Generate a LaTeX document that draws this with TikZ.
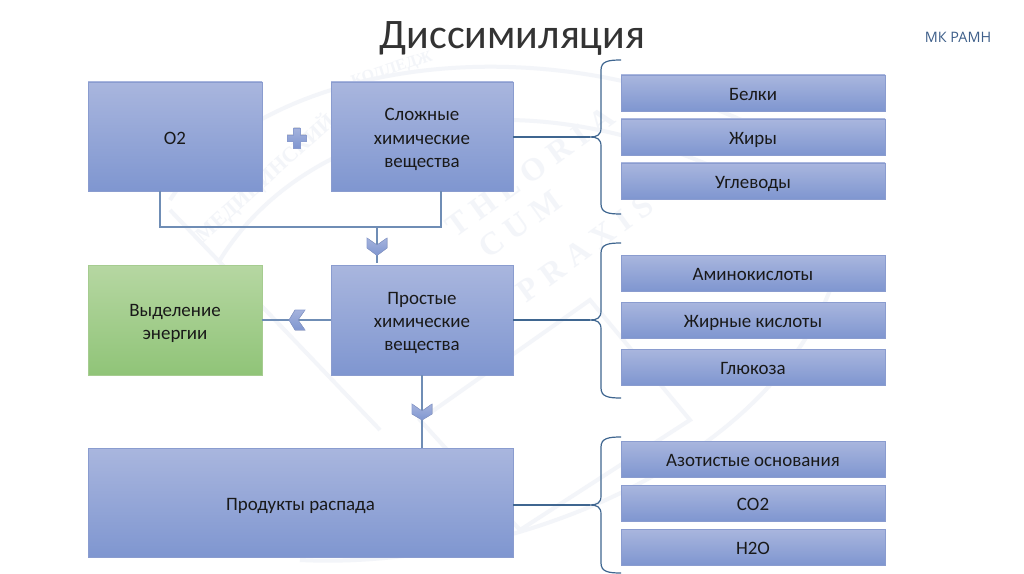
\documentclass[tikz,border=0pt]{standalone}
\usepackage{fontspec}
\setmainfont{Carlito}
\newfontfamily\logofont{Open Sans}
\newfontfamily\wmserif{Liberation Serif}
\usetikzlibrary{calc}
\definecolor{boxtop}{HTML}{A9B6DE}
\definecolor{boxbot}{HTML}{7F96D0}
\definecolor{boxline}{HTML}{8A9CCF}
\definecolor{greentop}{HTML}{B6D7A2}
\definecolor{greenbot}{HTML}{90C478}
\definecolor{greenline}{HTML}{A6CC90}
\definecolor{conn}{HTML}{6F8DB5}
\definecolor{bracecol}{HTML}{3F6690}
\definecolor{wm}{HTML}{F3F5F9}
\definecolor{logo}{HTML}{3E5F8A}
\tikzset{
  x=0.75pt,y=-0.75pt,
  bluebox/.style={draw=boxline,line width=0.7pt,top color=boxtop,bottom color=boxbot,shading angle=0,inner sep=0pt},
  greenbox/.style={bluebox,draw=greenline,top color=greentop,bottom color=greenbot},
  boxlabel/.style={align=center,text=black!90,font=\fontsize{14.2}{17.4}\selectfont,inner sep=0pt},
  connline/.style={draw=conn,line width=1.1pt},
  braceline/.style={draw=bracecol,line width=0.9pt},
  chev/.style={draw=boxline,line width=0.4pt,top color=boxtop!90!boxbot,bottom color=boxbot},
  wmline/.style={draw=wm,line width=3pt},
  wmtext/.style={text=wm,font=\wmserif\bfseries\fontsize{24}{26}\selectfont,inner sep=0pt}
}
\newcommand{\bx}[7]{\node[#6,minimum width={(#4-#2)*0.75pt},minimum height={(#5-#3)*0.75pt}] (#1) at ({(#2+#4)/2},{(#3+#5)/2}) {};
\node[boxlabel] (#1t) at ($(#1.center)+(0,3)$) {\strut #7\strut};}
\newcommand{\brc}[5]{\draw[braceline] (#1,#2) .. controls (#1-12,#2) and (#1-20,#2+1) .. (#1-20,#2+10) -- (#1-20,#3-9) .. controls (#1-20,#3-2) and (#1-24,#3) .. (#1-31,#3) .. controls (#1-24,#3) and (#1-20,#3+2) .. (#1-20,#3+9) -- (#1-20,#4-10) .. controls (#1-20,#4-1) and (#1-12,#4) .. (#1,#4);\coordinate (#5) at (#1-31,#3);}
\begin{document}
\begin{tikzpicture}
\useasboundingbox (0,0) rectangle (1024,574);
\fill[white] (0,0) rectangle (1024,574);
% faint watermark
\draw[wmline] (170,200) .. controls (260,60) and (560,10) .. (800,150);
\draw[wmline] (220,260) .. controls (300,130) and (500,70) .. (720,170);
\draw[wmline] (300,560) .. controls (500,570) and (760,470) .. (830,290);
\draw[wmline] (170,210) -- (380,430);
\draw[wmline] (420,420) -- (590,300) -- (690,420) -- (520,530) -- cycle;
\node[wmtext,rotate=36] (wm1) at (530,172) {T H E O R I A};
\node[wmtext,rotate=36] (wm2) at (520,224) {C U M};
\node[wmtext,rotate=36] (wm3) at (585,248) {P R A X I S};
\node[wmtext,rotate=42,font=\wmserif\bfseries\fontsize{16}{18}\selectfont] (wm4) at (265,178) {МЕДИЦИНСКИЙ};
\node[wmtext,rotate=18,font=\wmserif\bfseries\fontsize{12}{14}\selectfont] (wm5) at (392,70) {КОЛЛЕДЖ};
% boxes
\bx{o2}{88}{82}{262}{191}{bluebox}{О2}
\bx{slozh}{331}{82}{513}{191}{bluebox}{Сложные\\химические\\вещества}
\bx{energy}{88}{265}{262}{375}{greenbox}{Выделение\\энергии}
\bx{prost}{331}{265}{513}{375}{bluebox}{Простые\\химические\\вещества}
\bx{prod}{88}{448}{513}{557}{bluebox}{Продукты распада}
\bx{r1}{621}{75}{885}{111}{bluebox}{Белки}
\bx{r2}{621}{119}{885}{155}{bluebox}{Жиры}
\bx{r3}{621}{163}{885}{199}{bluebox}{Углеводы}
\bx{r4}{621}{255}{885}{291}{bluebox}{Аминокислоты}
\bx{r5}{621}{302}{885}{338}{bluebox}{Жирные кислоты}
\bx{r6}{621}{349}{885}{385}{bluebox}{Глюкоза}
\bx{r7}{621}{441}{885}{477}{bluebox}{Азотистые основания}
\bx{r8}{621}{485}{885}{521}{bluebox}{СО2}
\bx{r9}{621}{529}{885}{565}{bluebox}{Н2О}
% title and logo
\node[font=\fontsize{31.5}{34}\selectfont,text=black!80,inner sep=0pt] (title) at (512.5,38) {Диссимиляция};
\node[font=\logofont\fontsize{10.8}{12}\selectfont,text=logo,inner sep=0pt] (logotext) at (958,37.5) {МК РАМН};
% braces
\brc{621}{60}{137}{214}{b1}
\brc{621}{243}{320}{398}{b2}
\brc{621}{437}{505}{573}{b3}
\draw[braceline] (slozh.east |- b1) -- (b1);
\draw[braceline] (prost.east |- b2) -- (b2);
\draw[braceline] (prod.east |- b3) -- (b3);
% connectors
\coordinate (j1) at (377,227);
\coordinate (j2) at (377,262.5);
\draw[connline] (160,191) |- (441,227) -- (441,191);
\draw[connline] (j1) -- (j2);
\draw[connline] (prost.west |- energy.east) -- (energy.east);
\draw[connline] (422,375) -- (422,448);
% chevrons
\fill[chev] (367,238) -- (377,245) -- (387,238) -- (387,248) -- (377,255.5) -- (367,248) -- cycle;
\fill[chev] (412,404) -- (422,411) -- (432,404) -- (432,414) -- (422,420) -- (412,414) -- cycle;
\fill[chev] (305,310) -- (298,320) -- (305,330) -- (295,330) -- (289,320) -- (295,310) -- cycle;
% plus
\fill[chev] (293.5,128) -- (300,128) -- (300,135) -- (306,135) -- (306,141) -- (300,141) -- (300,148) -- (293.5,148) -- (293.5,141) -- (287,141) -- (287,135) -- (293.5,135) -- cycle;
\end{tikzpicture}
\end{document}
